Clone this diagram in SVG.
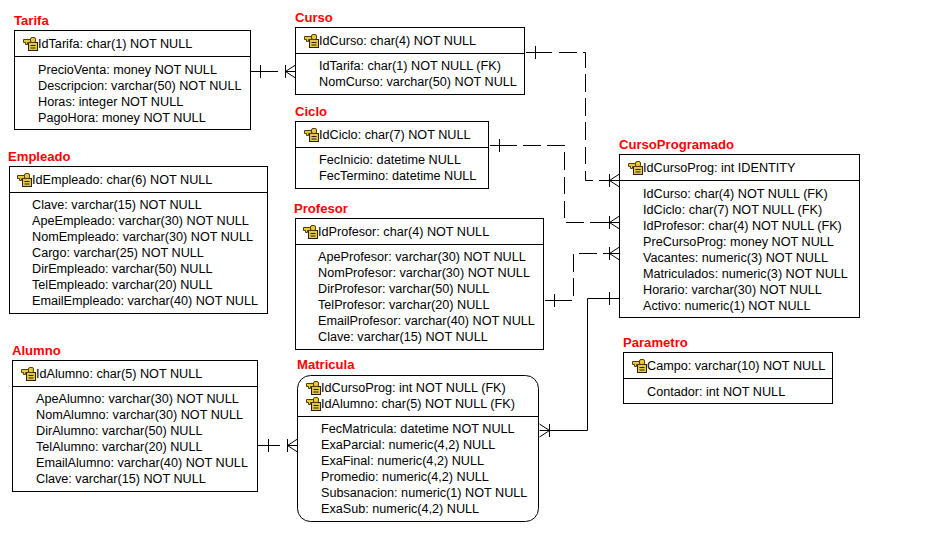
<svg xmlns="http://www.w3.org/2000/svg" width="947" height="553" viewBox="0 0 947 553">
<style>
text{font-family:"Liberation Sans",Arial,sans-serif;font-size:12.650px;fill:#000}
.t{font-size:13.100px;font-weight:bold;fill:#f00}
.b{fill:#fff;stroke:#000;stroke-width:1}
.c path,.x{fill:none;stroke:#000;stroke-width:1}
</style>
<defs>
<g id="k">
<rect x="5.500" y="5.500" width="9" height="8" fill="#e0c850" stroke="#302000" stroke-width="1"/>
<path d="M7.500 8.500h5M7.500 11h5" stroke="#302000" fill="none"/>
<path d="M0.500 2.500h7v3h-3v2h-2v-2h-2z" fill="#e8c840" stroke="#504000" stroke-width="1"/>
<rect x="7.500" y="0.500" width="5" height="5" rx="1.500" fill="#e8c840" stroke="#504000" stroke-width="1"/>
</g>
<g id="cl" class="x"><path d="M0 0H10M0-6.500V6.500M0 0L10-6.500M0 0L10 6.500"/></g>
<g id="cr" class="x"><path d="M0 0H-10M0-6.500V6.500M0 0L-10-6.500M0 0L-10 6.500"/></g>
</defs>
<rect width="947" height="553" fill="#fff"/>
<g id="connectors" class="c">
<path d="M250 71.500H278M260.500 65V78"/><use href="#cl" x="285.500" y="71.500"/>
<path d="M526 52.500H552M535.500 46V59M559 52.500H577M583 52.500H585.500V68M585.500 74V92M585.500 98V116M585.500 122V140M585.500 147V164M585.500 171V180.500H593M599 180.500H609"/><use href="#cl" x="609.500" y="180.500"/>
<path d="M490 145.500H517M499.500 139V152M523 145.500H541M547 145.500H565M564.500 152V170M564.500 177V194M564.500 201V218M566 222.500H584M590 222.500H609"/><use href="#cl" x="609.500" y="222.500"/>
<path d="M545 300.500H572M554.500 294V307M573.500 254V272M573.500 278V296M579 253.500H597M603 253.500H609"/><use href="#cl" x="609.500" y="253.500"/>
<path d="M549 430.500H587.500V298.500H619M609.500 292V305"/><use href="#cr" x="549.500" y="430.500"/>
<path d="M258 445.500H280M268.500 439V452"/><use href="#cl" x="287.500" y="445.500"/>
</g>
<g id="Tarifa"><text class="t" x="14" y="25">Tarifa</text><rect class="b" x="14.500" y="30.500" width="236" height="99"/><path d="M14.500 56.500H250.500" stroke="#000"/><use href="#k" x="23" y="37"/><text x="38" y="48">IdTarifa: char(1) NOT NULL</text><text x="38" y="74">PrecioVenta: money NOT NULL</text><text x="38" y="90">Descripcion: varchar(50) NOT NULL</text><text x="38" y="106">Horas: integer NOT NULL</text><text x="38" y="122">PagoHora: money NOT NULL</text></g>
<g id="Curso"><text class="t" x="295" y="22">Curso</text><rect class="b" x="295.500" y="27.500" width="229" height="67"/><path d="M295.500 53.500H524.500" stroke="#000"/><use href="#k" x="304" y="34"/><text x="319" y="45">IdCurso: char(4) NOT NULL</text><text x="319" y="70">IdTarifa: char(1) NOT NULL (FK)</text><text x="319" y="86">NomCurso: varchar(50) NOT NULL</text></g>
<g id="Ciclo"><text class="t" x="295" y="116">Ciclo</text><rect class="b" x="295.500" y="121.500" width="193" height="67"/><path d="M295.500 147.500H488.500" stroke="#000"/><use href="#k" x="304" y="128"/><text x="319" y="139">IdCiclo: char(7) NOT NULL</text><text x="319" y="164">FecInicio: datetime NULL</text><text x="319" y="180">FecTermino: datetime NULL</text></g>
<g id="Empleado"><text class="t" x="8" y="161">Empleado</text><rect class="b" x="9.500" y="166.500" width="258" height="147"/><path d="M9.500 192.500H267.500" stroke="#000"/><use href="#k" x="17" y="173"/><text x="32" y="184">IdEmpleado: char(6) NOT NULL</text><text x="32" y="209">Clave: varchar(15) NOT NULL</text><text x="32" y="225">ApeEmpleado: varchar(30) NOT NULL</text><text x="32" y="241">NomEmpleado: varchar(30) NOT NULL</text><text x="32" y="257">Cargo: varchar(25) NOT NULL</text><text x="32" y="273">DirEmpleado: varchar(50) NULL</text><text x="32" y="289">TelEmpleado: varchar(20) NULL</text><text x="32" y="305">EmailEmpleado: varchar(40) NOT NULL</text></g>
<g id="Profesor"><text class="t" x="294" y="213">Profesor</text><rect class="b" x="295.500" y="218.500" width="248" height="131"/><path d="M295.500 244.500H543.500" stroke="#000"/><use href="#k" x="303" y="225"/><text x="318" y="236">IdProfesor: char(4) NOT NULL</text><text x="318" y="261">ApeProfesor: varchar(30) NOT NULL</text><text x="318" y="277">NomProfesor: varchar(30) NOT NULL</text><text x="318" y="293">DirProfesor: varchar(50) NULL</text><text x="318" y="309">TelProfesor: varchar(20) NULL</text><text x="318" y="325">EmailProfesor: varchar(40) NOT NULL</text><text x="318" y="341">Clave: varchar(15) NOT NULL</text></g>
<g id="CursoProgramado"><text class="t" x="619" y="149">CursoProgramado</text><rect class="b" x="619.500" y="154.500" width="240" height="163"/><path d="M619.500 180.500H859.500" stroke="#000"/><use href="#k" x="628" y="161"/><text x="643" y="172">IdCursoProg: int IDENTITY</text><text x="643" y="198">IdCurso: char(4) NOT NULL (FK)</text><text x="643" y="214">IdCiclo: char(7) NOT NULL (FK)</text><text x="643" y="230">IdProfesor: char(4) NOT NULL (FK)</text><text x="643" y="246">PreCursoProg: money NOT NULL</text><text x="643" y="262">Vacantes: numeric(3) NOT NULL</text><text x="643" y="278">Matriculados: numeric(3) NOT NULL</text><text x="643" y="294">Horario: varchar(30) NOT NULL</text><text x="643" y="310">Activo: numeric(1) NOT NULL</text></g>
<g id="Parametro"><text class="t" x="623" y="347">Parametro</text><rect class="b" x="623.500" y="352.500" width="209" height="51"/><path d="M623.500 378.500H832.500" stroke="#000"/><use href="#k" x="632" y="359"/><text x="647" y="370">Campo: varchar(10) NOT NULL</text><text x="647" y="396">Contador: int NOT NULL</text></g>
<g id="Alumno"><text class="t" x="12" y="355">Alumno</text><rect class="b" x="12.500" y="360.500" width="245" height="131"/><path d="M12.500 386.500H257.500" stroke="#000"/><use href="#k" x="21" y="367"/><text x="36" y="378">IdAlumno: char(5) NOT NULL</text><text x="36" y="403">ApeAlumno: varchar(30) NOT NULL</text><text x="36" y="419">NomAlumno: varchar(30) NOT NULL</text><text x="36" y="435">DirAlumno: varchar(50) NULL</text><text x="36" y="451">TelAlumno: varchar(20) NULL</text><text x="36" y="467">EmailAlumno: varchar(40) NOT NULL</text><text x="36" y="483">Clave: varchar(15) NOT NULL</text></g>
<g id="Matricula"><text class="t" x="297" y="369">Matricula</text><rect class="b" x="297.500" y="375.500" width="241" height="146" rx="13" ry="13"/><path d="M297.500 416.500H538.500" stroke="#000"/><use href="#k" x="306" y="381"/><use href="#k" x="306" y="397"/><text x="321" y="392">IdCursoProg: int NOT NULL (FK)</text><text x="321" y="408">IdAlumno: char(5) NOT NULL (FK)</text><text x="321" y="433">FecMatricula: datetime NOT NULL</text><text x="321" y="449">ExaParcial: numeric(4,2) NULL</text><text x="321" y="465">ExaFinal: numeric(4,2) NULL</text><text x="321" y="481">Promedio: numeric(4,2) NULL</text><text x="321" y="497">Subsanacion: numeric(1) NOT NULL</text><text x="321" y="513">ExaSub: numeric(4,2) NULL</text></g>
</svg>
